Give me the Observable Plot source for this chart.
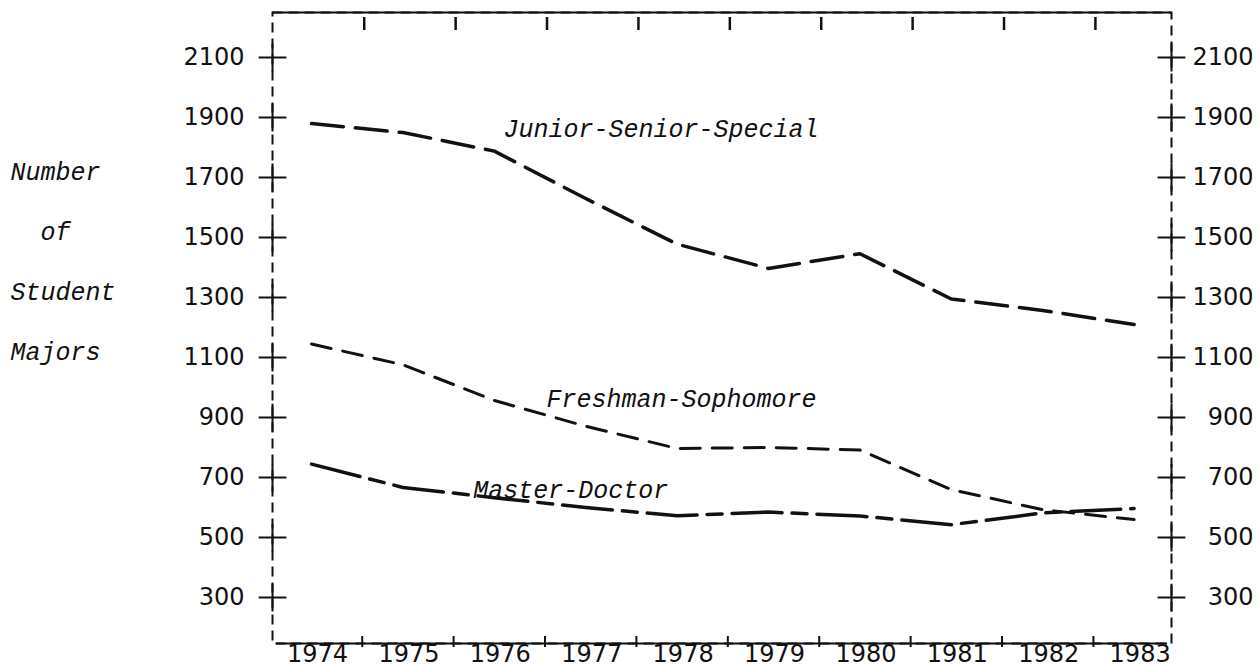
<!DOCTYPE html>
<html><head><meta charset="utf-8">
<script src="https://cdn.jsdelivr.net/npm/d3@7"></script>
<script src="https://cdn.jsdelivr.net/npm/@observablehq/plot@0.6"></script>
<style>
html,body{margin:0;padding:0;background:#fff;}
#chart svg text{white-space:pre;}
</style></head><body><div id="chart"></div>
<script>
// ---- data ----
const years = [1974, 1975, 1976, 1977, 1978, 1979, 1980, 1981, 1982, 1983];
const juniorSeniorSpecial = [1880, 1850, 1788, 1630, 1478, 1397, 1446, 1295, 1257, 1210];
const freshmanSophomore   = [1145, 1076, 957, 871, 797, 800, 792, 660, 593, 560];
const masterDoctor        = [745, 667, 633, 600, 573, 585, 572, 543, 582, 597];
const yTicks = [300, 500, 700, 900, 1100, 1300, 1500, 1700, 1900, 2100];
const seriesNames = ["Junior-Senior-Special", "Freshman-Sophomore", "Master-Doctor"];
const labelYears  = [1976.1, 1976.57, 1975.77];
const labelValues = [1863, 963, 660];
const axisTitleWords = ["Number", "of", "Student", "Majors"];

const xDomain = [1973.573, 1983.409];
const yDomain = [147, 2250];

const toRows = (vals) => years.map((yr, i) => ({year: yr, value: vals[i]}));
const bounds = years.slice(1).map(y => y - 0.5);
const labels = seriesNames.map((name, i) => ({name, x: labelYears[i], y: labelValues[i]}));
const axisTitle = axisTitleWords.map((w, i) => i === 1 ? "\u00a0\u00a0" + w : w).join("\n");

const ink = "#111";
const chart = Plot.plot({
  width: 1259, height: 667,
  marginLeft: 272, marginRight: 88, marginTop: 12, marginBottom: 24,
  style: {fontFamily: "DejaVu Sans", fontSize: "24px", color: ink, background: "#fff"},
  x: {domain: xDomain, axis: null},
  y: {domain: yDomain, axis: null},
  marks: [
    Plot.frame({stroke: ink, strokeWidth: 2, strokeDasharray: "10,6"}),
    Plot.ruleY([yDomain[1]], {stroke: ink, strokeWidth: 2}),
    Plot.ruleY([yDomain[0]], {stroke: ink, strokeWidth: 2, insetLeft: 4, insetRight: 4}),
    Plot.tickX(bounds, {x: d => d, dx: 7, stroke: ink, strokeWidth: 2.5, insetTop: 5, insetBottom: 613}),
    Plot.tickX(bounds, {x: d => d, dx: 5, stroke: ink, strokeWidth: 2, insetTop: 624, insetBottom: -4}),
    Plot.dot(yTicks, {x: xDomain[0], y: d => d, symbol: "plus", r: 9, fill: "none", stroke: ink, strokeWidth: 2}),
    Plot.dot(yTicks, {x: xDomain[1], y: d => d, symbol: "plus", r: 9, fill: "none", stroke: ink, strokeWidth: 2}),
    Plot.axisY(yTicks, {anchor: "left", tickSize: 0, tickPadding: 28, fontSize: 24, fontFamily: "DejaVu Sans", tickFormat: d => String(d)}),
    Plot.axisY(yTicks, {anchor: "right", tickSize: 0, tickPadding: 82, textAnchor: "end", fontSize: 24, fontFamily: "DejaVu Sans", tickFormat: d => String(d)}),
    Plot.axisX(years, {anchor: "bottom", tickSize: 0, tickPadding: 1, dx: 6, fontSize: 24, fontFamily: "DejaVu Sans", tickFormat: d => String(d)}),
    Plot.line(toRows(juniorSeniorSpecial), {x: "year", y: "value", stroke: ink, strokeWidth: 3.5, strokeDasharray: "32,12"}),
    Plot.line(toRows(freshmanSophomore), {x: "year", y: "value", stroke: ink, strokeWidth: 3, strokeDasharray: "20,12"}),
    Plot.line(toRows(masterDoctor), {x: "year", y: "value", stroke: ink, strokeWidth: 3.5, strokeDasharray: "50,10,15,10"}),
    Plot.text(labels, {x: "x", y: "y", text: "name", textAnchor: "start", fontFamily: "Liberation Mono", fontStyle: "italic", fontSize: 25, fill: ink}),
    Plot.text([axisTitle], {frameAnchor: "left", dx: -262, dy: -77, textAnchor: "start", lineHeight: 2.4, fontFamily: "Liberation Mono", fontStyle: "italic", fontSize: 25, fill: ink})
  ]
});
document.getElementById("chart").append(chart);
</script></body></html>
